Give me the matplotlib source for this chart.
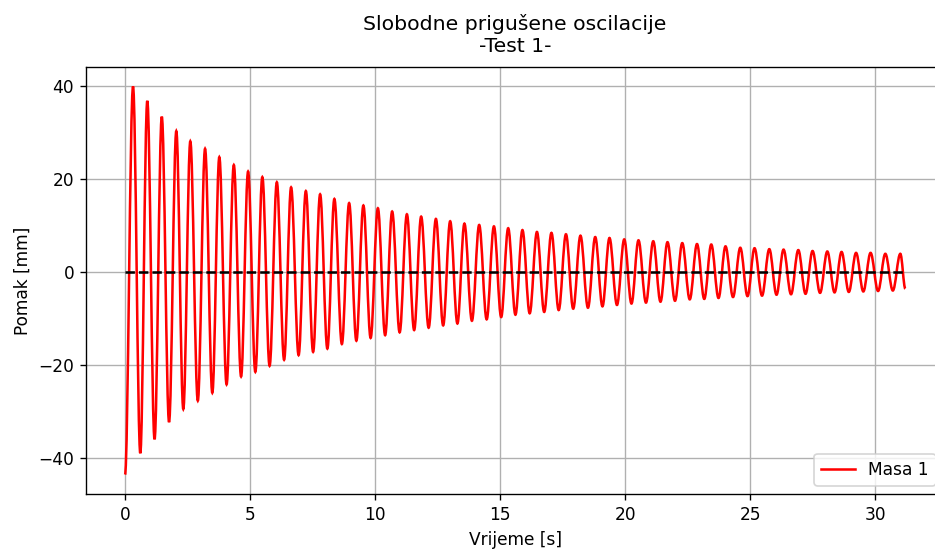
import numpy as np
import matplotlib
matplotlib.use('Agg')
import matplotlib.pyplot as plt
from matplotlib.path import Path
from matplotlib.patches import PathPatch
from matplotlib.lines import Line2D

# values (vrhovi / dolovi oscilacije)
t_start, y_start = 0.0, -43.6
t_end, y_end = 31.2, -3.6

t_peak = [0.32, 0.89, 1.47, 2.05, 2.61, 3.20, 3.77, 4.35, 4.92, 5.49,
          6.07, 6.64, 7.23, 7.80, 8.37, 8.96, 9.53, 10.11, 10.68, 11.27,
          11.84, 12.43, 13.00, 13.57, 14.16, 14.75, 15.32, 15.89, 16.47, 17.05,
          17.63, 18.21, 18.80, 19.37, 19.96, 20.53, 21.12, 21.69, 22.28, 22.87,
          23.44, 24.01, 24.60, 25.17, 25.76, 26.33, 26.92, 27.49, 28.08, 28.65,
          29.23, 29.81, 30.40, 31.00]
y_peak = [39.9, 36.8, 33.4, 30.3, 28.1, 26.5, 24.7, 23.0, 21.6, 20.4,
          19.3, 18.2, 17.4, 16.7, 15.7, 14.8, 14.3, 13.7, 13.0, 12.4,
          11.9, 11.4, 10.9, 10.4, 10.1, 9.8, 9.4, 9.0, 8.6, 8.4,
          8.1, 7.8, 7.5, 7.3, 7.0, 6.8, 6.6, 6.4, 6.2, 6.0,
          5.9, 5.5, 5.2, 5.1, 4.9, 4.8, 4.7, 4.5, 4.4, 4.3,
          4.1, 4.1, 3.9, 3.9]

t_trough = [0.61, 1.18, 1.76, 2.33, 2.91, 3.49, 4.06, 4.64, 5.21, 5.78,
            6.36, 6.94, 7.52, 8.09, 8.67, 9.25, 9.82, 10.40, 10.98, 11.56,
            12.14, 12.72, 13.29, 13.87, 14.46, 15.04, 15.61, 16.18, 16.76, 17.34,
            17.92, 18.51, 19.09, 19.67, 20.25, 20.83, 21.41, 21.99, 22.58, 23.16,
            23.73, 24.31, 24.89, 25.47, 26.05, 26.63, 27.21, 27.79, 28.37, 28.94,
            29.52, 30.11, 30.70]
y_trough = [-39.0, -36.0, -32.3, -29.5, -27.7, -26.0, -24.2, -22.5, -21.5, -20.2,
            -18.9, -17.9, -17.2, -16.5, -15.5, -14.8, -14.2, -13.6, -13.0, -12.5,
            -12.0, -11.5, -11.1, -10.5, -10.2, -9.7, -9.2, -8.9, -8.6, -8.2,
            -7.9, -7.7, -7.4, -7.1, -6.8, -6.6, -6.4, -6.2, -5.9, -5.8,
            -5.6, -5.4, -5.2, -5.1, -4.9, -4.8, -4.7, -4.5, -4.4, -4.3,
            -4.2, -4.1, -4.0]

# slozi ekstreme po vremenu
tt = np.concatenate([[t_start], t_peak, t_trough, [t_end]])
yy = np.concatenate([[y_start], y_peak, y_trough, [y_end]])
order = np.argsort(tt)
tt = tt[order]
yy = yy[order]

# glatka krivulja kroz ekstreme (bezier, horizontalna tangenta u ekstremu)
verts = [(tt[0], yy[0])]
codes = [Path.MOVETO]
for i in range(len(tt) - 1):
    dt = tt[i+1] - tt[i]
    verts += [(tt[i] + 0.364*dt, yy[i]), (tt[i+1] - 0.364*dt, yy[i+1]), (tt[i+1], yy[i+1])]
    codes += [Path.CURVE4, Path.CURVE4, Path.CURVE4]

dpi = 122
fig = plt.figure(figsize=(935/dpi, 549/dpi), dpi=dpi)
ax = fig.add_axes([0.092, 0.100, 0.918, 0.778])

patch = PathPatch(Path(verts, codes), fill=False, edgecolor='red', lw=1.5, zorder=2)
ax.add_patch(patch)
ax.plot([t_start, t_end], [0, 0], 'k--', zorder=3)

ax.set_xlim(-1.56, 32.76)
ax.set_ylim(-47.8, 44.1)
ax.grid(True)
ax.set_title('Slobodne prigušene oscilacije\n-Test 1-', pad=9)
ax.set_xlabel('Vrijeme [s]')
ax.set_ylabel('Pomak [mm]')
ax.legend(handles=[Line2D([], [], color='red', lw=1.5, label='Masa 1')], loc='lower right')

fig.savefig('out.png', dpi=dpi)
